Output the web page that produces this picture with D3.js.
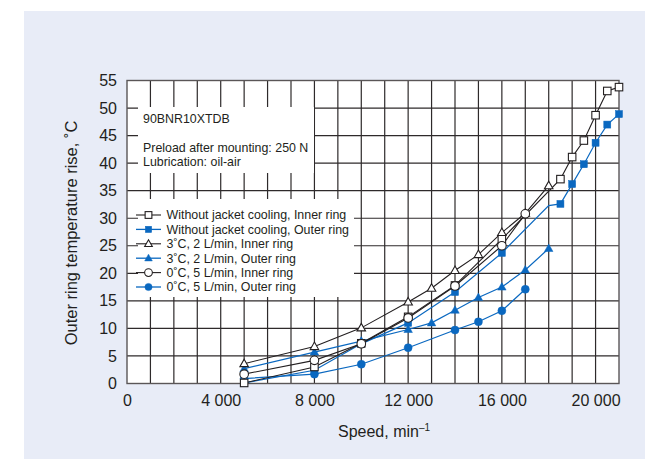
<!DOCTYPE html>
<html><head><meta charset="utf-8">
<script src="https://cdn.jsdelivr.net/npm/d3@7"></script>
<style>
html,body{margin:0;padding:0;background:#fff;}
svg{display:block;font-family:"Liberation Sans",Arial,Helvetica,sans-serif;}
</style></head>
<body>
<svg id="chart" width="645" height="475"></svg>
<script>
// ---- data ----
const xTicks = [0, 4000, 8000, 12000, 16000, 20000];
const xTickLabels = ["0", "4 000", "8 000", "12 000", "16 000", "20 000"];
const yTicks = [0, 5, 10, 15, 20, 25, 30, 35, 40, 45, 50, 55];

const noJacketInnerSpeed = [5000, 8000, 10000, 12000, 14000, 16000, 18500, 19000, 19500, 20000, 20500, 21000];
const noJacketInnerTemp  = [0.1, 3.0, 7.3, 12.1, 17.8, 26.2, 37.1, 41.1, 44.1, 48.7, 53.1, 53.8];

const noJacketOuterSpeed = [5000, 8000, 10000, 12000, 14000, 16000, 18500, 19000, 19500, 20000, 20500, 21000];
const noJacketOuterTemp  = [0.1, 2.4, 7.2, 11.0, 16.6, 23.7, 32.6, 36.2, 39.8, 43.7, 47.0, 48.9];
const noJacketOuterBend  = [18000, 32.3]; // line vertex without marker

const c3InnerSpeed = [5000, 8000, 10000, 12000, 13000, 14000, 15000, 16000, 17000, 18000];
const c3InnerTemp  = [3.6, 6.7, 10.1, 14.8, 17.3, 20.5, 23.4, 27.4, 30.9, 35.9];

const c3OuterSpeed = [5000, 8000, 10000, 12000, 13000, 14000, 15000, 16000, 17000, 18000];
const c3OuterTemp  = [2.7, 5.7, 7.7, 9.8, 11.0, 13.3, 15.6, 17.5, 20.6, 24.5];

const c0InnerSpeed = [5000, 8000, 10000, 12000, 14000, 16000, 17000];
const c0InnerTemp  = [1.7, 4.2, 7.2, 11.9, 17.7, 25.0, 30.8];

const c0OuterSpeed = [5000, 8000, 10000, 12000, 14000, 15000, 16000, 17000];
const c0OuterTemp  = [0.9, 1.7, 3.5, 6.5, 9.7, 11.2, 13.2, 17.1];

const seriesNames = [
  "Without jacket cooling, Inner ring",
  "Without jacket cooling, Outer ring",
  "3\u02daC, 2 L/min, Inner ring",
  "3\u02daC, 2 L/min, Outer ring",
  "0\u02daC, 5 L/min, Inner ring",
  "0\u02daC, 5 L/min, Outer ring"
];
const noteLines = ["90BNR10XTDB", "Preload after mounting: 250 N", "Lubrication: oil-air"];

// ---- styles ----
const BLACK = "#231f20", BLUE = "#0a68c0";
const zip = (a, b) => a.map((v, i) => [v, b[i]]);
const series = [
  {name: seriesNames[0], pts: zip(noJacketInnerSpeed, noJacketInnerTemp), color: BLACK, shape: "square", open: true},
  {name: seriesNames[1], pts: zip(noJacketOuterSpeed, noJacketOuterTemp), extra: [noJacketOuterBend], color: BLUE, shape: "square", open: false},
  {name: seriesNames[2], pts: zip(c3InnerSpeed, c3InnerTemp), color: BLACK, shape: "triangle", open: true},
  {name: seriesNames[3], pts: zip(c3OuterSpeed, c3OuterTemp), color: BLUE, shape: "triangle", open: false},
  {name: seriesNames[4], pts: zip(c0InnerSpeed, c0InnerTemp), color: BLACK, shape: "circle", open: true},
  {name: seriesNames[5], pts: zip(c0OuterSpeed, c0OuterTemp), color: BLUE, shape: "circle", open: false}
];

const svg = d3.select("#chart");
const L = 127, R = 619, T = 80.5, B = 383.5;
const x = d3.scaleLinear().domain([0, 21000]).range([L, R]);
const y = d3.scaleLinear().domain([0, 55]).range([B, T]);

// panel background
svg.append("rect").attr("x", 24).attr("y", 11).attr("width", 621).attr("height", 448).attr("fill", "#e8ecf7");
// plot background
svg.append("rect").attr("x", L).attr("y", T).attr("width", R - L).attr("height", B - T).attr("fill", "#fff");

// grid
const g = svg.append("g");
g.selectAll("line.v").data(d3.range(1000, 21000, 1000)).join("line")
  .attr("x1", d => x(d)).attr("x2", d => x(d)).attr("y1", T).attr("y2", B)
  .attr("stroke", "#2e2a2b").attr("stroke-width", 1.2);
g.selectAll("line.h").data(yTicks.filter(d => d > 0 && d < 55)).join("line")
  .attr("x1", L).attr("x2", R).attr("y1", d => y(d)).attr("y2", d => y(d))
  .attr("stroke", "#2e2a2b").attr("stroke-width", 1.2);

// white boxes (note & legend)
svg.append("rect").attr("x", 138).attr("y", 107).attr("width", 176).attr("height", 66).attr("fill", "#fff");
svg.append("rect").attr("x", 138).attr("y", 199).attr("width", 216).attr("height", 98).attr("fill", "#fff");

// frame
svg.append("rect").attr("x", L).attr("y", T).attr("width", R - L).attr("height", B - T)
  .attr("fill", "none").attr("stroke", "#5a5657").attr("stroke-width", 1.4);

// axis labels
const yAxis = d3.axisLeft(y).tickValues(yTicks).tickSize(0).tickPadding(10);
const ya = svg.append("g").attr("transform", `translate(${L},0)`).call(yAxis);
ya.select(".domain").remove();
ya.selectAll("text").attr("font-size", 16).attr("fill", BLACK).attr("font-family", "Liberation Sans, Arial, sans-serif");

const xAxis = d3.axisBottom(x).tickValues(xTicks).tickFormat((d, i) => xTickLabels[i]).tickSize(0).tickPadding(11);
const xa = svg.append("g").attr("transform", `translate(0,${B})`).call(xAxis);
xa.select(".domain").remove();
xa.selectAll("text").attr("font-size", 16).attr("fill", BLACK).attr("font-family", "Liberation Sans, Arial, sans-serif");

// axis titles
svg.append("text").attr("transform", `translate(77,${(T + B) / 2 + 1}) rotate(-90)`)
  .attr("text-anchor", "middle").attr("font-size", 16.5).attr("fill", BLACK)
  .text("Outer ring temperature rise, \u02daC");
const xt = svg.append("text").attr("x", 384).attr("y", 437).attr("text-anchor", "middle")
  .attr("font-size", 16).attr("fill", BLACK);
xt.append("tspan").text("Speed, min");
xt.append("tspan").attr("dy", -6).attr("font-size", 10).text("\u20131");

// note text
svg.append("g").selectAll("text").data(noteLines).join("text")
  .attr("x", 143).attr("y", (d, i) => [123, 151.5, 166][i])
  .attr("font-size", 12.4).attr("fill", BLACK).text(d => d);

// markers
function marker(sel, s, cx, cy, scale) {
  const k = scale || 1;
  let m;
  if (s.shape === "square") {
    const a = (s.open ? 7.5 : 7) * k;
    m = sel.append("rect").attr("x", cx - a / 2).attr("y", cy - a / 2).attr("width", a).attr("height", a);
  } else if (s.shape === "triangle") {
    const h = 7.5 * k, w = 8.5 * k;
    m = sel.append("path").attr("d", `M${cx},${cy - h * 0.6}L${cx + w / 2},${cy + h * 0.4}L${cx - w / 2},${cy + h * 0.4}Z`);
  } else {
    m = sel.append("circle").attr("cx", cx).attr("cy", cy).attr("r", (s.open ? 4.3 : 4) * k);
  }
  m.attr("fill", s.open ? "#fff" : s.color).attr("stroke", s.color).attr("stroke-width", s.open ? 1.1 : 0.5);
}

const line = d3.line().x(d => x(d[0])).y(d => y(d[1]));
const drawOrder = [5, 3, 1, 0, 2, 4];
drawOrder.forEach(i => {
  const s = series[i];
  const pts = s.pts.concat(s.extra || []).sort((a, b) => a[0] - b[0]);
  svg.append("path").attr("d", line(pts)).attr("fill", "none")
    .attr("stroke", s.color).attr("stroke-width", s.color === BLUE ? 1.2 : 1.1);
});
drawOrder.forEach(i => {
  const s = series[i];
  const gm = svg.append("g");
  s.pts.forEach(p => marker(gm, s, x(p[0]), y(p[1])));
});

// legend
const lg = svg.append("g");
series.forEach((s, i) => {
  const yy = 215 + i * 14.4;
  lg.append("line").attr("x1", 136).attr("x2", 161).attr("y1", yy).attr("y2", yy)
    .attr("stroke", s.color).attr("stroke-width", s.color === BLUE ? 1.3 : 1.1);
  marker(lg, s, 148.5, yy, 0.9);
  lg.append("text").attr("x", 166.5).attr("y", yy + 4.3).attr("font-size", 12.4).attr("fill", BLACK).text(s.name);
});
</script>
</body></html>
